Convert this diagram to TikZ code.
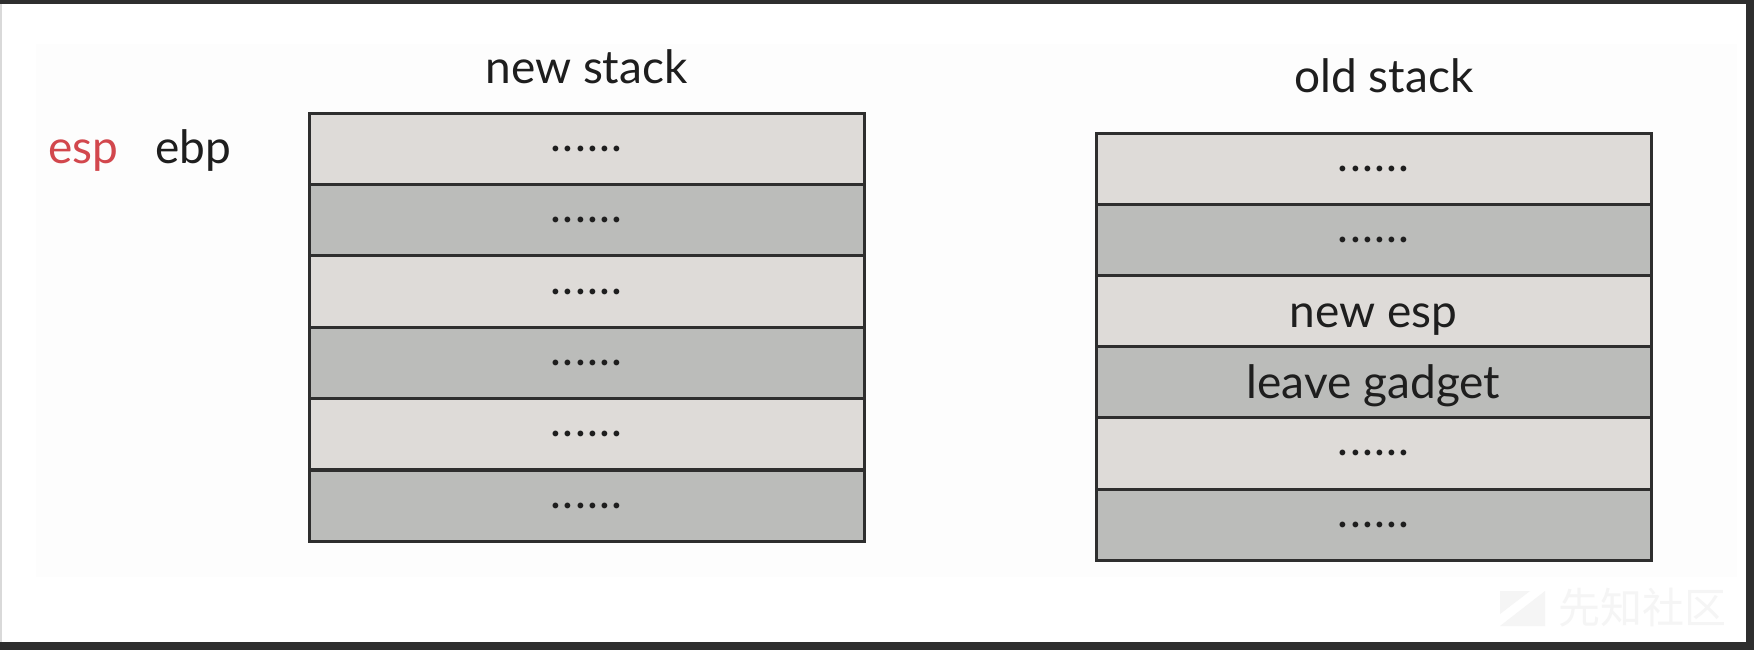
\documentclass[tikz,border=0pt]{standalone}
\usepackage{fontspec}
\setmainfont{Lato}
\newfontfamily\cjk{Noto Sans CJK SC}
\definecolor{lightrow}{HTML}{DEDBD8}
\definecolor{darkrow}{HTML}{BBBCBA}
\definecolor{framecol}{HTML}{2E2E2E}
\definecolor{espred}{HTML}{D2474D}
\definecolor{txt}{HTML}{1E1E1E}
\definecolor{faintbg}{HTML}{FDFDFD}
\definecolor{wmark}{HTML}{F5F5F5}
\newcommand{\dotrow}{.\kern0.6pt.\kern0.6pt.\kern0.6pt.\kern0.6pt.\kern0.6pt.}
\begin{document}
\begin{tikzpicture}[x=0.5pt,y=-0.5pt,
  cellbox/.style={draw=framecol,line width=1.5pt,rectangle,inner sep=0pt,
    minimum width=277.5pt,minimum height=35.6pt},
  cellL/.style={cellbox,fill=lightrow},
  cellD/.style={cellbox,fill=darkrow},
  lbl/.style={font=\fontsize{23}{27}\selectfont,text=txt,inner sep=0pt},
  dotlbl/.style={lbl,anchor=center},
  baselbl/.style={lbl,anchor=base}]
\useasboundingbox (0,0) rectangle (1754,650);
\fill[white] (0,0) rectangle (1754,650);
\fill[faintbg] (36,44) rectangle (1737,577);
\fill[framecol] (0,0) rectangle (1754,4);
\fill[framecol] (0,642) rectangle (1754,650);
\fill[framecol] (1746,0) rectangle (1754,650);
\fill[black!15] (0,4) rectangle (1.5,642);
% labels
\node[baselbl,text=espred] (esp) at (83.5,163) {esp};
\node[baselbl] (ebp) at (193,163) {ebp};
\node[baselbl] (tnew) at (586.5,83) {new stack};
\node[baselbl] (told) at (1384,92) {old stack};
% new stack
\node[cellL] (a1) at (586.5,148.7) {};
\node[cellD] (a2) at (586.5,220.1) {};
\node[cellL] (a3) at (586.5,291.5) {};
\node[cellD] (a4) at (586.5,362.9) {};
\node[cellL] (a5) at (586.5,434.3) {};
\node[cellD] (a6) at (586.5,505.7) {};
\foreach \i in {1,...,6} {\node[dotlbl] (ad\i) at (a\i.center) {\dotrow};}
% old stack
\node[cellL] (b1) at (1373.5,168.6) {};
\node[cellD] (b2) at (1373.5,239.8) {};
\node[cellL] (b3) at (1373.5,311.0) {};
\node[cellD] (b4) at (1373.5,382.2) {};
\node[cellL] (b5) at (1373.5,453.4) {};
\node[cellD] (b6) at (1373.5,524.6) {};
\node[dotlbl] (bd1) at (b1.center) {\dotrow};
\node[dotlbl] (bd2) at (b2.center) {\dotrow};
\node[baselbl] (bt3) at ([yshift=-8pt]b3.center) {new esp};
\node[baselbl] (bt4) at ([yshift=-8pt]b4.center) {leave gadget};
\node[dotlbl] (bd5) at (b5.center) {\dotrow};
\node[dotlbl] (bd6) at (b6.center) {\dotrow};
% watermark
\fill[wmark] (1500,626) -- (1545,591) -- (1545,626) -- cycle;
\fill[wmark] (1500,591) -- (1530,591) -- (1500,614) -- cycle;
\node[anchor=west,text=wmark,font=\cjk\fontsize{21}{24}\selectfont,inner sep=0pt] (wm) at (1558,608) {先知社区};
\end{tikzpicture}
\end{document}
